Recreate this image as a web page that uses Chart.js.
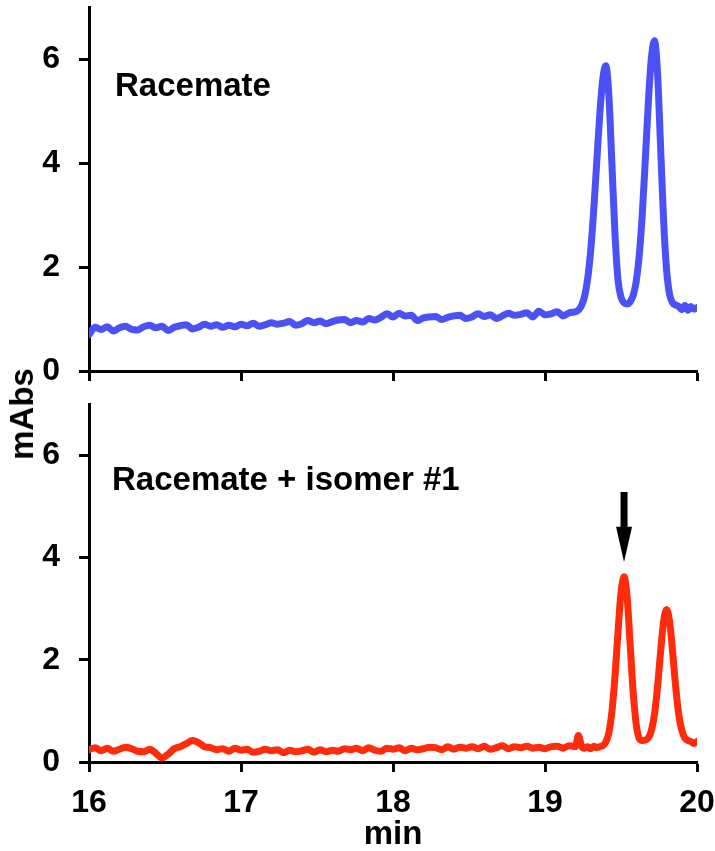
<!DOCTYPE html>
<html>
<head>
<meta charset="utf-8">
<script src="https://cdn.jsdelivr.net/npm/chart.js@4"></script>
<style>
  html, body { margin: 0; padding: 0; background: #fff; }
  body { width: 715px; height: 851px; position: relative; overflow: hidden; }
  canvas { position: absolute; left: 0; }
  #c1 { top: 0; }
  #c2 { top: 390px; }
  #ytitle {
    position: absolute; left: 22px; top: 414px;
    transform: translate(-50%, -50%) rotate(-90deg);
    font: bold 33px "Liberation Sans", Arial, sans-serif; color: #000; white-space: nowrap;
  }
</style>
</head>
<body>
<canvas id="c1" width="715" height="390"></canvas>
<canvas id="c2" width="715" height="461"></canvas>
<div id="ytitle">mAbs</div>
<script>
// ---- data ----
const times = [
  16.00,16.04,16.08,16.12,16.16,16.20,16.24,16.28,16.32,16.36,
  16.40,16.44,16.48,16.52,16.56,16.60,16.64,16.68,16.72,16.76,
  16.80,16.84,16.88,16.92,16.96,17.00,17.04,17.08,17.12,17.16,
  17.20,17.24,17.28,17.32,17.36,17.40,17.44,17.48,17.52,17.56,
  17.60,17.64,17.68,17.72,17.76,17.80,17.84,17.88,17.92,17.96,
  18.00,18.04,18.08,18.12,18.16,18.20,18.24,18.28,18.32,18.36,
  18.40,18.44,18.48,18.52,18.56,18.60,18.64,18.68,18.72,18.76,
  18.80,18.84,18.88,18.92,18.96,19.00,19.04,19.08,19.12,19.16,
  19.20,19.22,19.24,19.26,19.28,19.30,19.32,19.34,19.36,19.38,
  19.40,19.42,19.44,19.46,19.48,19.50,19.52,19.54,19.56,19.58,
  19.60,19.62,19.64,19.66,19.68,19.70,19.72,19.74,19.76,19.78,
  19.80,19.82,19.84,19.86,19.88,19.90,19.92,19.94,19.96,19.98,
  20.00
];
const racemate = [
  0.70,0.84,0.80,0.85,0.77,0.83,0.86,0.80,0.79,0.85,
  0.88,0.83,0.86,0.78,0.84,0.87,0.89,0.81,0.84,0.90,
  0.86,0.89,0.84,0.88,0.85,0.90,0.87,0.92,0.86,0.89,
  0.93,0.90,0.92,0.95,0.88,0.91,0.97,0.93,0.96,0.91,
  0.95,0.98,0.99,0.93,0.97,0.94,1.01,0.98,1.03,1.10,
  1.04,1.11,1.06,1.07,0.97,1.02,1.04,1.05,0.99,1.03,
  1.06,1.07,1.01,1.04,1.10,1.05,1.08,1.01,1.06,1.11,
  1.07,1.09,1.12,1.04,1.15,1.08,1.10,1.14,1.06,1.12,
  1.14,1.17,1.26,1.43,1.76,2.30,3.07,4.00,4.92,5.61,
  5.87,5.31,4.00,2.66,1.76,1.42,1.31,1.29,1.33,1.45,
  1.72,2.22,3.02,4.07,5.17,6.02,6.35,5.75,4.35,2.91,
  1.94,1.47,1.31,1.27,1.24,1.18,1.26,1.17,1.24,1.19,
  1.22
];
const racemateIsomer1 = [
  0.24,0.28,0.22,0.27,0.21,0.25,0.29,0.26,0.21,0.20,
  0.25,0.17,0.08,0.15,0.26,0.30,0.36,0.42,0.38,0.30,
  0.28,0.24,0.26,0.21,0.27,0.23,0.25,0.19,0.21,0.25,
  0.22,0.24,0.18,0.23,0.20,0.22,0.25,0.19,0.24,0.20,
  0.23,0.21,0.26,0.24,0.27,0.22,0.28,0.23,0.21,0.27,
  0.25,0.28,0.22,0.27,0.24,0.26,0.29,0.28,0.24,0.30,
  0.25,0.29,0.27,0.30,0.26,0.31,0.25,0.28,0.32,0.26,
  0.30,0.28,0.31,0.27,0.29,0.26,0.30,0.31,0.27,0.32,
  0.30,0.52,0.31,0.27,0.30,0.26,0.31,0.28,0.30,0.32,
  0.39,0.57,0.98,1.66,2.53,3.31,3.62,3.23,2.31,1.37,
  0.74,0.46,0.42,0.43,0.47,0.62,0.93,1.46,2.14,2.74,
  2.98,2.74,2.14,1.46,0.93,0.62,0.47,0.42,0.40,0.36,
  0.40
];
const xTicks = [16, 17, 18, 19, 20];
const yTicks = [0, 2, 4, 6];
const panelLabels = ["Racemate", "Racemate + isomer #1"];
const xTitle = "min";
const arrow = { x: 19.52, from: 5.28, headStart: 4.6, to: 3.91 };

// ---- rendering ----
const FONT = "'Liberation Sans', Arial, Helvetica, sans-serif";
Chart.defaults.font.family = FONT;
Chart.defaults.font.weight = 'bold';
Chart.defaults.font.size = 32;
Chart.defaults.color = '#000';

function pts(vals) { return times.map((t, i) => ({ x: t, y: vals[i] })); }

const labelPlugin = {
  id: 'panelLabel',
  afterDraw(chart, args, opts) {
    const { ctx, chartArea } = chart;
    ctx.save();
    ctx.font = 'bold 33px ' + FONT;
    ctx.fillStyle = '#000';
    ctx.textBaseline = 'alphabetic';
    ctx.textAlign = 'left';
    ctx.fillText(opts.text, chartArea.left + opts.dx, chartArea.top + opts.dy);
    ctx.restore();
  }
};

const arrowPlugin = {
  id: 'arrowMark',
  afterDatasetsDraw(chart, args, opts) {
    if (!opts.show) return;
    const { ctx, scales } = chart;
    const x = scales.x.getPixelForValue(arrow.x);
    const y0 = scales.y.getPixelForValue(arrow.from);
    const y1 = scales.y.getPixelForValue(arrow.headStart);
    const y2 = scales.y.getPixelForValue(arrow.to);
    ctx.save();
    ctx.fillStyle = '#000';
    ctx.fillRect(x - 3.5, y0, 7, y1 - y0 + 1);
    ctx.beginPath();
    ctx.moveTo(x - 8, y1);
    ctx.lineTo(x + 8, y1);
    ctx.lineTo(x, y2);
    ctx.closePath();
    ctx.fill();
    ctx.restore();
  }
};

function makeChart(id, vals, color, opt) {
  return new Chart(document.getElementById(id), {
    type: 'line',
    data: {
      datasets: [{
        data: pts(vals),
        borderColor: color,
        borderWidth: 7,
        pointRadius: 0,
        cubicInterpolationMode: 'monotone',
        borderJoinStyle: 'round',
        borderCapStyle: 'round',
        fill: false
      }]
    },
    options: {
      responsive: false,
      animation: false,
      events: [],
      layout: { padding: { left: 0, right: 18, top: opt.padTop, bottom: 0 } },
      plugins: {
        legend: { display: false },
        tooltip: { enabled: false },
        panelLabel: { text: opt.label, dx: opt.dx, dy: opt.dy },
        arrowMark: { show: opt.arrow }
      },
      scales: {
        x: {
          type: 'linear',
          min: 16, max: 20,
          afterBuildTicks: s => { s.ticks = xTicks.map(v => ({ value: v })); },
          afterFit: s => { s.height = opt.xHeight; s.paddingLeft = 0; s.paddingRight = 0; },
          border: { display: true, color: '#000', width: 3 },
          grid: { display: true, drawOnChartArea: false, drawTicks: true, tickLength: 10, tickWidth: 3, tickColor: '#000' },
          ticks: { display: opt.xLabels, padding: 12, maxRotation: 0, autoSkip: false,
                   font: { size: 32, weight: 'bold' }, color: '#000' },
          title: { display: opt.xLabels, text: xTitle, font: { size: 33, weight: 'bold' }, color: '#000',
                   padding: { top: 0, bottom: -4 } }
        },
        y: {
          min: 0, max: 7,
          afterBuildTicks: s => { s.ticks = yTicks.map(v => ({ value: v })); },
          afterFit: s => { s.width = 89; s.paddingTop = 0; s.paddingBottom = 0; },
          border: { display: true, color: '#000', width: 3 },
          grid: { display: true, drawOnChartArea: false, drawTicks: true, tickLength: 10, tickWidth: 3, tickColor: '#000' },
          ticks: { padding: 19, font: { size: 32, weight: 'bold' }, color: '#000' }
        }
      }
    },
    plugins: [labelPlugin, arrowPlugin]
  });
}

makeChart('c1', racemate, '#4a52f5',
  { padTop: 7, xHeight: 19, xLabels: false, label: panelLabels[0], dx: 26, dy: 89, arrow: false });
makeChart('c2', racemateIsomer1, '#ff2b0a',
  { padTop: 14, xHeight: 89, xLabels: true, label: panelLabels[1], dx: 23, dy: 86, arrow: true });
</script>
</body>
</html>
